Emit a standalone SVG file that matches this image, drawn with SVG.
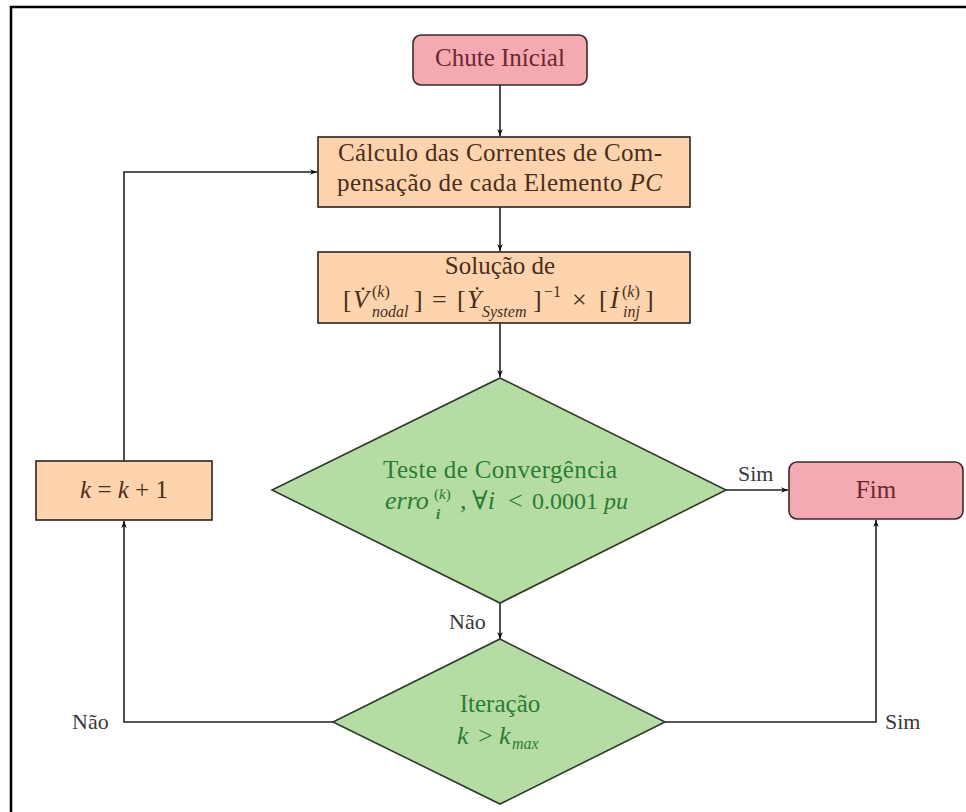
<svg xmlns="http://www.w3.org/2000/svg" width="966" height="812" viewBox="0 0 966 812">
<style>
.t{font-family:"Liberation Serif","DejaVu Serif",serif;font-size:25px;}
.m{font-family:"Liberation Serif","DejaVu Serif",serif;font-size:26px;}
.s{font-family:"Liberation Serif","DejaVu Serif",serif;font-size:16px;}
.i{font-style:italic;}
.pink{fill:#f5a9b1;stroke:#3a2a2a;stroke-width:1.6;}
.org{fill:#fdd4ad;stroke:#2a2222;stroke-width:1.6;}
.grn{fill:#b5dca2;stroke:#2c3a2c;stroke-width:1.6;}
.cp{fill:#6b2630;}
.co{fill:#4a2e1a;}
.cg{fill:#2a7d34;}
.cl{fill:#3a3a3a;}
.ln{fill:none;stroke:#222;stroke-width:1.6;}
</style>
<defs>
<marker id="ah" viewBox="0 0 10 10" refX="10" refY="5" markerWidth="7" markerHeight="7" orient="auto" markerUnits="userSpaceOnUse">
<path d="M0,1 L10,5 L0,9 L3,5 Z" fill="#111"/>
</marker>
</defs>
<rect x="0" y="0" width="966" height="812" fill="#fff"/>
<path d="M11,812 V7 H966" fill="none" stroke="#000" stroke-width="2.5"/>

<g id="connectors">
<path class="ln" d="M500,85 V136" marker-end="url(#ah)"/>
<path class="ln" d="M500,207 V251" marker-end="url(#ah)"/>
<path class="ln" d="M500,323 V377" marker-end="url(#ah)"/>
<path class="ln" d="M726,490 H788" marker-end="url(#ah)"/>
<path class="ln" d="M500,603 V639" marker-end="url(#ah)"/>
<path class="ln" d="M333,722 H124 V521" marker-end="url(#ah)"/>
<path class="ln" d="M665,722 H876 V520" marker-end="url(#ah)"/>
<path class="ln" d="M124,461 V172 H317" marker-end="url(#ah)"/>
<text class="t cl" x="738" y="481" style="font-size:22px">Sim</text>
<text class="t cl" x="449" y="629" style="font-size:22px">Não</text>
<text class="t cl" x="72" y="729" style="font-size:22px">Não</text>
<text class="t cl" x="885" y="729" style="font-size:22px">Sim</text>
</g>

<g id="chute">
<rect class="pink" x="413" y="35" width="174" height="50" rx="8"/>
<text class="t cp" x="500" y="66" text-anchor="middle">Chute Inícial</text>
</g>

<g id="calculo">
<rect class="org" x="318" y="137" width="372" height="70"/>
<text class="t co" x="338" y="161" textLength="324" lengthAdjust="spacing">Cálculo das Correntes de Com-</text>
<text class="t co" x="337" y="191" textLength="325" lengthAdjust="spacing">pensação de cada Elemento <tspan class="i">PC</tspan></text>
</g>

<g id="solucao">
<rect class="org" x="318" y="252" width="372" height="71"/>
<text class="t co" x="500" y="274" text-anchor="middle">Solução de</text>
<g class="co">
<text class="m" x="343" y="308">[</text>
<text class="m i" x="353" y="308">V̇</text>
<text class="s" x="372" y="297">(<tspan class="i">k</tspan>)</text>
<text class="s i" x="372" y="317">nodal</text>
<text class="m" x="414" y="308">]</text>
<text class="m" x="432" y="308">=</text>
<text class="m" x="457" y="308">[</text>
<text class="m i" x="467" y="308">Ẏ</text>
<text class="s i" x="482" y="317">System</text>
<text class="m" x="533" y="308">]</text>
<text class="s" x="544" y="297">−1</text>
<text class="m" x="572" y="308">×</text>
<text class="m" x="599" y="308">[</text>
<text class="m i" x="610" y="308">İ</text>
<text class="s" x="622" y="297">(<tspan class="i">k</tspan>)</text>
<text class="s i" x="623" y="317">inj</text>
<text class="m" x="645" y="308">]</text>
</g>
</g>

<g id="teste">
<polygon class="grn" points="500,378 726,490 500,603 272,490"/>
<text class="t cg" x="500" y="478" text-anchor="middle" textLength="234" lengthAdjust="spacing">Teste de Convergência</text>
<g class="cg">
<text class="m i" x="385" y="509">erro</text>
<text class="s" x="434" y="499" style="font-size:15px">(<tspan class="i">k</tspan>)</text>
<text class="s i" x="436" y="519" font-weight="bold" style="font-size:15px">i</text>
<text class="m" x="460" y="509">,</text>
<text class="m" x="472" y="509">∀<tspan class="i">i</tspan></text>
<text class="m" x="508" y="509">&lt;</text>
<text class="m" x="532" y="509" style="font-size:24px">0.0001 <tspan class="i">pu</tspan></text>
</g>
</g>

<g id="fim">
<rect class="pink" x="789" y="462" width="174" height="57" rx="8"/>
<text class="t cp" x="876" y="498" text-anchor="middle">Fim</text>
</g>

<g id="kinc">
<rect class="org" x="36" y="461" width="176" height="59"/>
<text class="t co" x="124" y="498" text-anchor="middle"><tspan class="i">k</tspan> = <tspan class="i">k</tspan> + 1</text>
</g>

<g id="iteracao">
<polygon class="grn" points="500,639 665,722 500,804 333,722"/>
<text class="t cg" x="500" y="712" text-anchor="middle">Iteração</text>
<g class="cg">
<text class="m i" x="457" y="744">k</text>
<text class="m" x="478" y="744">&gt;</text>
<text class="m i" x="499" y="744">k</text>
<text class="s i" x="512" y="749">max</text>
</g>
</g>
</svg>
